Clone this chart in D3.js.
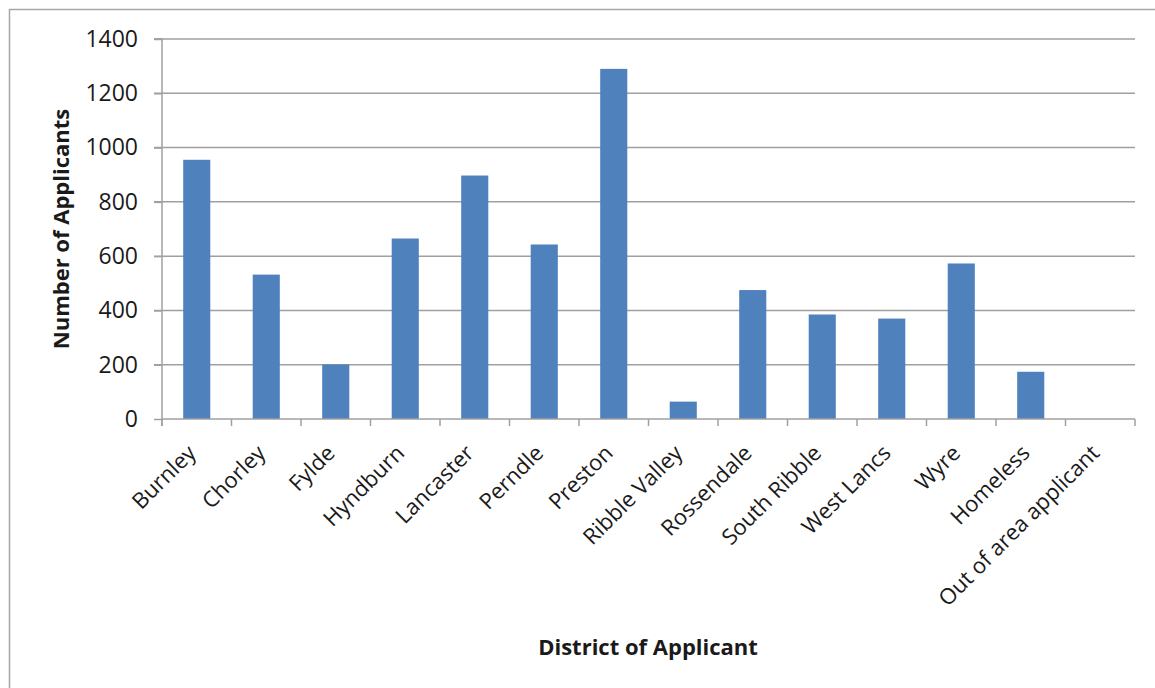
<!DOCTYPE html>
<html>
<head>
<meta charset="utf-8">
<script src="https://cdn.jsdelivr.net/npm/d3@7"></script>
<style>
  html, body { margin: 0; padding: 0; background: #fff; }
  svg { display: block; }
  text { font-family: "Open Sans", sans-serif; fill: #1a1a1a; }
</style>
</head>
<body>
<svg id="chart" width="1155" height="688"></svg>
<script>
const categories = ["Burnley", "Chorley", "Fylde", "Hyndburn", "Lancaster", "Perndle", "Preston",
  "Ribble Valley", "Rossendale", "South Ribble", "West Lancs", "Wyre", "Homeless", "Out of area applicant"];
const applicants = [955, 532, 201, 665, 897, 643, 1290, 64, 475, 385, 370, 573, 174, 0];
const yTicks = [0, 200, 400, 600, 800, 1000, 1200, 1400];
const xTitle = "District of Applicant";
const yTitle = "Number of Applicants";

const svg = d3.select("#chart");
const plot = { left: 162, right: 1135, top: 39, bottom: 419 };

// outer chart border
svg.append("rect")
  .attr("x", 9.5).attr("y", 9.5).attr("width", 1170).attr("height", 700)
  .attr("fill", "#fff").attr("stroke", "#a6a6a6").attr("stroke-width", 1.5);

const x = d3.scaleBand().domain(categories).range([plot.left, plot.right]).paddingInner(0.61).paddingOuter(0.305);
const xb = d3.scaleBand().domain(categories).range([plot.left, plot.right]);
const y = d3.scaleLinear().domain([0, 1400]).range([plot.bottom, plot.top]);

// gridlines
svg.append("g")
  .selectAll("line").data(yTicks.filter(d => d > 0)).join("line")
  .attr("x1", plot.left - 8).attr("x2", plot.right)
  .attr("y1", d => y(d)).attr("y2", d => y(d))
  .attr("stroke", "#a0a0a0").attr("stroke-width", 1.5);

// bars
svg.append("g")
  .selectAll("rect").data(categories).join("rect")
  .attr("x", d => x(d))
  .attr("width", x.bandwidth())
  .attr("y", (d, i) => y(applicants[i]))
  .attr("height", (d, i) => y(0) - y(applicants[i]))
  .attr("fill", "#4f81bd");

// y axis
const yAxis = d3.axisLeft(y).tickValues(yTicks).tickSize(8).tickPadding(16).tickFormat(d3.format("d"));
const gy = svg.append("g").attr("transform", `translate(${plot.left},0)`).call(yAxis);
gy.select(".domain").attr("stroke", "#a0a0a0").attr("stroke-width", 1.5).attr("d", `M-8,${plot.top}H0V${plot.bottom + 7}`);
gy.selectAll(".tick line").attr("stroke", "#a0a0a0").attr("stroke-width", 1.5);
gy.selectAll(".tick text").attr("font-family", "Open Sans").attr("font-size", 23).attr("fill", "#1a1a1a");

// x axis
const xAxis = d3.axisBottom(xb).tickSize(0).tickFormat("");
const gx = svg.append("g").attr("transform", `translate(0,${plot.bottom})`).call(xAxis);
gx.select(".domain").attr("stroke", "#a0a0a0").attr("stroke-width", 1.5).attr("d", `M${plot.left},0H${plot.right}`);
gx.selectAll(".tick").remove();
const bounds = categories.map(c => xb(c)).concat([plot.right]);
gx.selectAll("line.sep").data(bounds).join("line").attr("class", "sep")
  .attr("x1", d => d).attr("x2", d => d).attr("y1", 0).attr("y2", 7)
  .attr("stroke", "#a0a0a0").attr("stroke-width", 1.5);

// category labels rotated -45
svg.append("g").selectAll("text").data(categories).join("text")
  .attr("transform", d => `translate(${xb(d) + xb.bandwidth() / 2 - 5},${plot.bottom + 30}) rotate(-45)`)
  .attr("text-anchor", "end")
  .attr("dy", "0.35em")
  .attr("font-size", 22)
  .text(d => d);

// axis titles
svg.append("text")
  .attr("x", 648).attr("y", 655)
  .attr("text-anchor", "middle").attr("font-weight", "bold").attr("font-size", 22)
  .text(xTitle);
svg.append("text")
  .attr("transform", `translate(69,${(plot.top + plot.bottom) / 2}) rotate(-90)`)
  .attr("text-anchor", "middle").attr("font-weight", "bold").attr("font-size", 22)
  .text(yTitle);
</script>
</body>
</html>
